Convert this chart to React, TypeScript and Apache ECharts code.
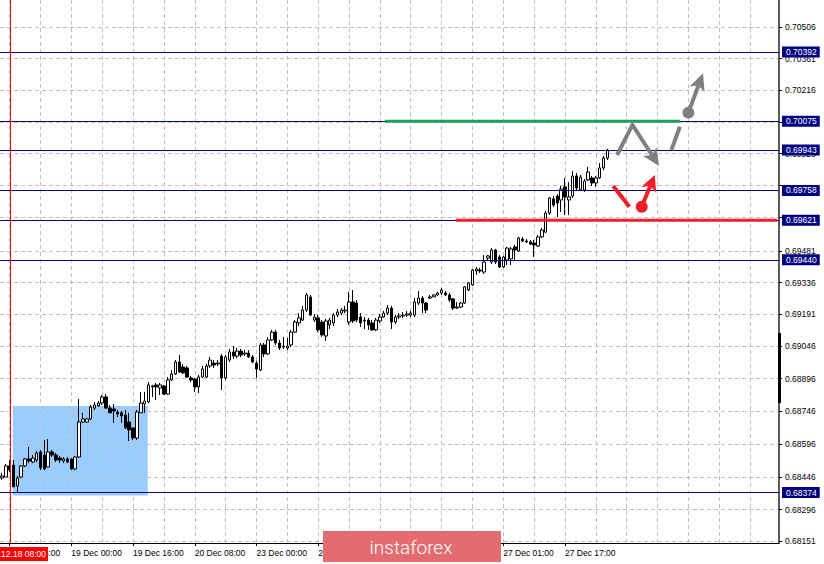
import React, { useEffect, useRef } from "react";
import * as echarts from "echarts";

// ---- OHLC (H1 bars, 18 Dec 06:00 onward) ----
const opens = [
  0.68441, 0.68445, 0.68496, 0.685, 0.68404, 0.68445, 0.68496, 0.68528, 0.68514, 0.68523,
  0.6856, 0.68546, 0.68491, 0.6856, 0.68546, 0.68532, 0.68519, 0.68528, 0.68528, 0.68482,
  0.68537, 0.68697, 0.68697, 0.68711, 0.68761, 0.68771, 0.68784, 0.68812, 0.68761, 0.68757,
  0.68743, 0.68739, 0.68729, 0.68697, 0.6867, 0.68624, 0.68739, 0.6878, 0.68789, 0.68862,
  0.68867, 0.68853, 0.68862, 0.68825, 0.6889, 0.68917, 0.68972, 0.68949, 0.68945, 0.68899,
  0.68894, 0.68858, 0.68903, 0.68903, 0.68954, 0.68967, 0.68963, 0.68999, 0.68899, 0.68981,
  0.69018, 0.68999, 0.69022, 0.69009, 0.69013, 0.68995, 0.68967, 0.68935, 0.6905, 0.69009,
  0.69073, 0.69109, 0.69059, 0.69041, 0.69036, 0.6905, 0.69109, 0.69151, 0.69164, 0.6921,
  0.6927, 0.69164, 0.69174, 0.69155, 0.69091, 0.69142, 0.69151, 0.69187, 0.69196, 0.69206,
  0.69155, 0.69247, 0.69242, 0.69178, 0.6916, 0.69164, 0.69151, 0.69119, 0.6916, 0.69178,
  0.69196, 0.69219, 0.69155, 0.69178, 0.69183, 0.69187, 0.69187, 0.69187, 0.69242, 0.69265,
  0.69242, 0.69265, 0.6927, 0.69279, 0.69288, 0.69288, 0.69279, 0.69261, 0.69219, 0.69224,
  0.69242, 0.69302, 0.69325, 0.69389, 0.69393, 0.69384, 0.69448, 0.6943, 0.69485, 0.69453,
  0.69407, 0.69439, 0.69444, 0.69499, 0.6948, 0.69535, 0.69526, 0.69522, 0.69517, 0.69503,
  0.69545, 0.69567, 0.69654, 0.69719, 0.69732, 0.69714, 0.69774, 0.69714, 0.69732, 0.69824,
  0.6976, 0.6976, 0.69806, 0.69815, 0.69792, 0.69815, 0.69861, 0.69906,
];
const closes = [
  0.6845, 0.68496, 0.68477, 0.684, 0.68441, 0.68496, 0.68528, 0.68519, 0.68532, 0.68555,
  0.68487, 0.68482, 0.6856, 0.68546, 0.68523, 0.68523, 0.68528, 0.68514, 0.68482, 0.68537,
  0.68697, 0.68711, 0.68711, 0.68766, 0.68775, 0.68784, 0.68812, 0.68761, 0.68739, 0.68748,
  0.68734, 0.68725, 0.6867, 0.68661, 0.68624, 0.68743, 0.68784, 0.68793, 0.68867, 0.68858,
  0.68858, 0.68867, 0.68825, 0.6889, 0.68917, 0.68972, 0.68926, 0.68922, 0.68903, 0.6889,
  0.68858, 0.68903, 0.6894, 0.68954, 0.68981, 0.68958, 0.68967, 0.68899, 0.68995, 0.69018,
  0.68999, 0.69022, 0.69004, 0.69013, 0.68995, 0.68972, 0.6894, 0.6905, 0.69009, 0.69073,
  0.69109, 0.69059, 0.69036, 0.69045, 0.69045, 0.69109, 0.69155, 0.69174, 0.6921, 0.69279,
  0.69187, 0.69178, 0.69119, 0.69096, 0.6916, 0.69164, 0.69187, 0.69201, 0.6921, 0.6921,
  0.69247, 0.6916, 0.69164, 0.69151, 0.69164, 0.69142, 0.69119, 0.69164, 0.69178, 0.69196,
  0.69219, 0.69155, 0.69178, 0.69183, 0.69187, 0.69192, 0.69196, 0.69247, 0.69265, 0.69242,
  0.6921, 0.6927, 0.69279, 0.69288, 0.69302, 0.69279, 0.69256, 0.69219, 0.69224, 0.69242,
  0.69316, 0.69334, 0.69393, 0.69398, 0.69389, 0.6943, 0.69458, 0.69485, 0.6943, 0.69407,
  0.69453, 0.69494, 0.6949, 0.69485, 0.6954, 0.69526, 0.69522, 0.69512, 0.69508, 0.69545,
  0.69577, 0.69654, 0.69723, 0.69691, 0.697, 0.69764, 0.69728, 0.69728, 0.69824, 0.69769,
  0.69819, 0.69801, 0.69842, 0.69792, 0.69815, 0.69861, 0.69906, 0.69943,
];
const lows = [
  0.68432, 0.68445, 0.68468, 0.684, 0.68372, 0.68441, 0.68491, 0.68509, 0.68509, 0.68514,
  0.68477, 0.68477, 0.68491, 0.68537, 0.68514, 0.68509, 0.68509, 0.68509, 0.68477, 0.68477,
  0.68532, 0.68693, 0.68693, 0.68706, 0.68752, 0.68766, 0.68775, 0.68757, 0.68739, 0.68693,
  0.6872, 0.68693, 0.68665, 0.6861, 0.68615, 0.68615, 0.68739, 0.68739, 0.68784, 0.68812,
  0.68798, 0.68821, 0.68821, 0.68821, 0.68885, 0.68913, 0.68922, 0.68917, 0.68899, 0.6888,
  0.68835, 0.6883, 0.68899, 0.68899, 0.68945, 0.68945, 0.68954, 0.68844, 0.6889, 0.68972,
  0.68986, 0.6899, 0.68995, 0.68999, 0.6899, 0.68967, 0.68899, 0.68931, 0.68995, 0.69004,
  0.69068, 0.6905, 0.69027, 0.69032, 0.69027, 0.69041, 0.69105, 0.69137, 0.6916, 0.69201,
  0.69183, 0.69155, 0.69109, 0.69087, 0.69068, 0.69123, 0.69137, 0.69178, 0.69187, 0.69196,
  0.69142, 0.69151, 0.69155, 0.69132, 0.69123, 0.69119, 0.69114, 0.69114, 0.69151, 0.69174,
  0.69187, 0.69123, 0.69146, 0.69169, 0.69174, 0.69178, 0.69178, 0.69178, 0.69233, 0.69196,
  0.69196, 0.69261, 0.6927, 0.69274, 0.69279, 0.69274, 0.69247, 0.6921, 0.69215, 0.69219,
  0.69238, 0.69297, 0.6932, 0.69371, 0.6938, 0.69375, 0.69439, 0.69421, 0.69421, 0.69403,
  0.69403, 0.69416, 0.69416, 0.69439, 0.69476, 0.69522, 0.69517, 0.69508, 0.69453, 0.69499,
  0.6954, 0.69563, 0.69645, 0.69682, 0.69636, 0.69659, 0.69645, 0.69645, 0.69723, 0.6976,
  0.69755, 0.69751, 0.69801, 0.69778, 0.69774, 0.6981, 0.69851, 0.69897,
];
const highs = [
  0.68464, 0.68505, 0.68523, 0.68523, 0.6845, 0.685, 0.68532, 0.68583, 0.68546, 0.68564,
  0.68569, 0.68615, 0.68619, 0.68569, 0.68555, 0.68542, 0.68537, 0.68537, 0.68532, 0.68542,
  0.68803, 0.68739, 0.68716, 0.68775, 0.68789, 0.68793, 0.68821, 0.68825, 0.68775, 0.6878,
  0.68752, 0.68748, 0.68752, 0.68739, 0.6867, 0.68752, 0.68835, 0.68835, 0.6888, 0.68867,
  0.68876, 0.68876, 0.68867, 0.68903, 0.68935, 0.68981, 0.69004, 0.68963, 0.68954, 0.68908,
  0.68899, 0.68913, 0.68954, 0.68963, 0.68995, 0.68981, 0.68981, 0.69009, 0.69004, 0.69032,
  0.69045, 0.69036, 0.69032, 0.69027, 0.69027, 0.69004, 0.68977, 0.69059, 0.69059, 0.69087,
  0.69119, 0.69119, 0.69073, 0.69087, 0.69082, 0.69119, 0.69164, 0.69196, 0.69229, 0.69288,
  0.69279, 0.69192, 0.69187, 0.69164, 0.69169, 0.69174, 0.69196, 0.69215, 0.69219, 0.69229,
  0.69293, 0.69302, 0.69256, 0.69196, 0.69178, 0.69174, 0.69164, 0.69174, 0.69192, 0.69206,
  0.69233, 0.69229, 0.69187, 0.69196, 0.69201, 0.69206, 0.69206, 0.69265, 0.69297, 0.69274,
  0.69247, 0.69279, 0.69283, 0.69293, 0.69311, 0.69297, 0.69288, 0.69265, 0.69247, 0.69247,
  0.6932, 0.69338, 0.69398, 0.69407, 0.69403, 0.69462, 0.69462, 0.69494, 0.6949, 0.69462,
  0.69458, 0.69499, 0.69499, 0.69508, 0.69545, 0.69545, 0.69535, 0.69531, 0.69531, 0.69554,
  0.69586, 0.69664, 0.69728, 0.69732, 0.69741, 0.69778, 0.69815, 0.69796, 0.69847, 0.69838,
  0.69829, 0.6981, 0.69865, 0.69824, 0.69824, 0.69883, 0.69916, 0.69948,
];

// ---- axes ----
const CATEGORY_COUNT = 202; // bars + empty future slots to the right
const categories = Array.from({ length: CATEGORY_COUNT }, (_, i) => String(i));
// labels every 16 bars from bar 2; the two under the watermark are not visible
const xTickLabels = [
  "18 Dec 08:00", "19 Dec 00:00", "19 Dec 16:00", "20 Dec 08:00", "23 Dec 00:00",
  "23 Dec 16:00", "", "", "27 Dec 01:00", "27 Dec 17:00",
];
const FIRST_LABEL_BAR = 2;
const LABEL_STEP = 16;
const GRID_STEP = 8;
// price grid (all ticks) and the tick labels that are not hidden behind level tags
const yTickValues = [
  0.70506, 0.70361, 0.70216, 0.70071, 0.69926, 0.69781, 0.69636, 0.69481, 0.69336,
  0.69191, 0.69046, 0.68896, 0.68746, 0.68596, 0.68446, 0.68296, 0.68151,
];
const yTickLabels = [
  0.70506, 0.70361, 0.70216, 0.69926, 0.69481, 0.69336,
  0.69191, 0.69046, 0.68896, 0.68746, 0.68596, 0.68446, 0.68296, 0.68151,
];
const Y_MIN = 0.68143;
const Y_MAX = 0.7063;

// ---- levels and annotations (bar index, price) ----
const levelValues = [0.70392, 0.70075, 0.69943, 0.69758, 0.69621, 0.6944, 0.68374];
const greenLevel = { from: 99.3, to: 175.8, value: 0.70075 };
const redLevel = { from: 117.7, to: 201.5, value: 0.69621 };
const zoneBox = { from: 2.8, to: 37.8, top: 0.68771, bottom: 0.6836 };
const separatorBar = 2;
const separatorLabel = "2019.12.18 08:00";
const scaleMark = { top: 0.69105, bottom: 0.68784 };
const grayZigzag = [[159.5, 0.6992], [163.5, 0.70058], [170.4, 0.6987]];
const grayRise = [[173.6, 0.69943], [175.8, 0.7005]];
const grayDot = [178.0, 0.70114];
const grayTip = [181.8, 0.70294];
const redFall = [[158.5, 0.69778], [162.7, 0.69683]];
const redDot = [165.9, 0.69683];
const redTip = [169.3, 0.69829];

const NAVY = "#000080";
const GRAY = "#808080";
const RED = "#ee2027";
const GREEN = "#1f9f5c";
const FONT = '"Liberation Sans", Arial, sans-serif';

function head(tip: number[], from: number[], len: number, half: number, color: string) {
  const dx = tip[0] - from[0];
  const dy = tip[1] - from[1];
  const d = Math.hypot(dx, dy) || 1;
  const ux = dx / d, uy = dy / d;
  const nx = -uy, ny = ux;
  const bx = tip[0] - ux * len, by = tip[1] - uy * len;
  const notch = [tip[0] - ux * (len - 4), tip[1] - uy * (len - 4)];
  return {
    base: notch,
    el: {
      type: "polygon",
      shape: {
        points: [tip, [bx + nx * half, by + ny * half], notch, [bx - nx * half, by - ny * half]],
      },
      style: { fill: color },
    },
  };
}

export default function App() {
  const ref = useRef<HTMLDivElement>(null);
  useEffect(() => {
    if (!ref.current) return;
    const chart = echarts.init(ref.current, undefined, { renderer: "svg" });
    const candles = opens.map((o, i) => [o, closes[i], lows[i], highs[i]]);

    const backRender = (params: any, api: any) => {
      const a = api.coord([zoneBox.from, zoneBox.top]);
      const b = api.coord([zoneBox.to, zoneBox.bottom]);
      return {
        type: "rect",
        shape: { x: a[0], y: a[1], width: b[0] - a[0], height: b[1] - a[1] },
        style: { fill: "#99ccff" },
      };
    };

    const frontRender = (params: any, api: any) => {
      const cs = params.coordSys;
      const children: any[] = [];
      const sx = Math.round(api.coord([separatorBar, Y_MAX])[0]) + 0.5;
      children.push({
        type: "line",
        shape: { x1: sx, y1: cs.y, x2: sx, y2: cs.y + cs.height },
        style: { stroke: "#ff0000", lineWidth: 1 },
      });
      const g1 = api.coord([greenLevel.from, greenLevel.value]);
      const g2 = api.coord([greenLevel.to, greenLevel.value]);
      children.push({
        type: "line",
        shape: { x1: g1[0], y1: g1[1], x2: g2[0], y2: g2[1] },
        style: { stroke: GREEN, lineWidth: 3 },
      });
      const r1 = api.coord([redLevel.from, redLevel.value]);
      const r2 = api.coord([redLevel.to, redLevel.value]);
      children.push({
        type: "line",
        shape: { x1: r1[0], y1: r1[1], x2: r2[0] - 2, y2: r2[1] },
        style: { stroke: RED, lineWidth: 3 },
      });
      const m1 = api.coord([0, scaleMark.top]);
      const m2 = api.coord([0, scaleMark.bottom]);
      children.push({
        type: "rect",
        shape: { x: cs.x + cs.width - 1, y: m1[1], width: 3, height: m2[1] - m1[1] },
        style: { fill: "#000" },
      });
      const zz = grayZigzag.map((p) => api.coord(p));
      const h1 = head(zz[2], zz[1], 17, 8, GRAY);
      children.push({
        type: "polyline",
        shape: { points: [zz[0], zz[1], h1.base] },
        style: { stroke: GRAY, lineWidth: 4, fill: "none", lineJoin: "miter" },
      });
      children.push(h1.el);
      const gr = grayRise.map((p) => api.coord(p));
      children.push({
        type: "line",
        shape: { x1: gr[0][0], y1: gr[0][1], x2: gr[1][0], y2: gr[1][1] },
        style: { stroke: GRAY, lineWidth: 4 },
      });
      const gd = api.coord(grayDot);
      const gt = api.coord(grayTip);
      const h2 = head(gt, gd, 17, 8, GRAY);
      children.push({
        type: "line",
        shape: { x1: gd[0], y1: gd[1], x2: h2.base[0], y2: h2.base[1] },
        style: { stroke: GRAY, lineWidth: 4 },
      });
      children.push(h2.el);
      children.push({ type: "circle", shape: { cx: gd[0], cy: gd[1], r: 6 }, style: { fill: GRAY } });
      const rf = redFall.map((p) => api.coord(p));
      children.push({
        type: "line",
        shape: { x1: rf[0][0], y1: rf[0][1], x2: rf[1][0], y2: rf[1][1] },
        style: { stroke: RED, lineWidth: 4 },
      });
      const rd = api.coord(redDot);
      const rt = api.coord(redTip);
      const h3 = head(rt, rd, 16, 8, RED);
      children.push({
        type: "line",
        shape: { x1: rd[0], y1: rd[1], x2: h3.base[0], y2: h3.base[1] },
        style: { stroke: RED, lineWidth: 4 },
      });
      children.push(h3.el);
      children.push({ type: "circle", shape: { cx: rd[0], cy: rd[1], r: 6 }, style: { fill: RED } });
      return { type: "group", children };
    };

    const isLabelBar = (i: number) =>
      i >= FIRST_LABEL_BAR && (i - FIRST_LABEL_BAR) % LABEL_STEP === 0 &&
      (i - FIRST_LABEL_BAR) / LABEL_STEP < xTickLabels.length;

    chart.setOption({
      animation: false,
      backgroundColor: "#ffffff",
      grid: { left: 0, right: 45, top: 0, bottom: 21, containLabel: false },
      xAxis: [
        {
          type: "category",
          data: categories,
          boundaryGap: true,
          axisLine: { show: true, lineStyle: { color: "#000", width: 1 } },
          axisTick: {
            show: true,
            alignWithLabel: true,
            interval: (i: number) => isLabelBar(i),
            length: 3,
            lineStyle: { color: "#000" },
          },
          axisLabel: {
            interval: (i: number) => isLabelBar(i) && xTickLabels[(i - FIRST_LABEL_BAR) / LABEL_STEP] !== "",
            formatter: (_v: string, i: number) => xTickLabels[(i - FIRST_LABEL_BAR) / LABEL_STEP] ?? "",
            align: "left",
            margin: 5,
            fontSize: 8.5,
            fontFamily: FONT,
            color: "#000",
          },
          splitLine: {
            show: true,
            alignWithLabel: true,
            interval: (i: number) => i >= FIRST_LABEL_BAR && (i - FIRST_LABEL_BAR) % GRID_STEP === 0,
            lineStyle: { color: "#c0c0c0", type: [4, 3], width: 1 },
          },
        },
        { type: "value", min: -0.5, max: CATEGORY_COUNT - 0.5, show: false, splitLine: { show: false } },
      ],
      yAxis: {
        type: "value",
        position: "right",
        min: Y_MIN,
        max: Y_MAX,
        axisLine: { show: true, onZero: false, lineStyle: { color: "#5a5a5a", width: 2 } },
        axisTick: { show: true, customValues: yTickValues, length: 3, lineStyle: { color: "#000" } },
        axisLabel: {
          customValues: yTickLabels,
          formatter: (v: number) => v.toFixed(5),
          margin: 6,
          fontSize: 8.5,
          fontFamily: FONT,
          color: "#000",
        },
        splitLine: { show: true, lineStyle: { color: "#c0c0c0", type: [4, 3], width: 1 } },
      },
      series: [
        {
          type: "custom",
          xAxisIndex: 1,
          yAxisIndex: 0,
          z: -1,
          silent: true,
          data: [[0, Y_MIN]],
          renderItem: backRender,
        },
        {
          type: "candlestick",
          xAxisIndex: 0,
          yAxisIndex: 0,
          data: candles,
          barWidth: 3,
          itemStyle: {
            color: "#ffffff",
            color0: "#000000",
            borderColor: "#000000",
            borderColor0: "#000000",
            borderWidth: 1,
          },
          markLine: {
            silent: true,
            precision: 5,
            symbol: ["none", "none"],
            lineStyle: { color: NAVY, width: 1, type: "solid" },
            label: {
              show: true,
              position: "end",
              distance: 3,
              formatter: (p: any) => Number(p.value).toFixed(5),
              backgroundColor: NAVY,
              color: "#ffffff",
              fontSize: 8.5,
              fontFamily: FONT,
              padding: [1, 3, 1, 4],
            },
            data: levelValues.map((v) => ({ yAxis: v })),
          },
        },
        {
          type: "custom",
          xAxisIndex: 1,
          yAxisIndex: 0,
          z: 5,
          silent: true,
          data: [[0, Y_MIN]],
          renderItem: frontRender,
        },
      ],
      graphic: [
        {
          type: "rect",
          z: 100,
          shape: { x: 0, y: 547, width: 48, height: 14 },
          style: { fill: "#ff0000" },
        },
        {
          type: "text",
          z: 101,
          x: 46,
          y: 554,
          style: {
            text: separatorLabel,
            align: "right",
            verticalAlign: "middle",
            fill: "#ffffff",
            font: '8.5px "Liberation Sans", Arial, sans-serif',
          },
        },
        {
          type: "rect",
          z: 100,
          shape: { x: 323, y: 531, width: 178, height: 31 },
          style: { fill: "#e46c70" },
        },
        {
          type: "text",
          z: 101,
          x: 411,
          y: 547,
          style: {
            text: "instaforex",
            align: "center",
            verticalAlign: "middle",
            fill: "#ffffff",
            font: '300 19px Roboto, "Open Sans", sans-serif',
          },
        },
      ],
    });
    return () => chart.dispose();
  }, []);
  return (
    <div
      ref={ref}
      style={{ position: "absolute", left: 0, top: 0, width: 824, height: 564 }}
    />
  );
}
